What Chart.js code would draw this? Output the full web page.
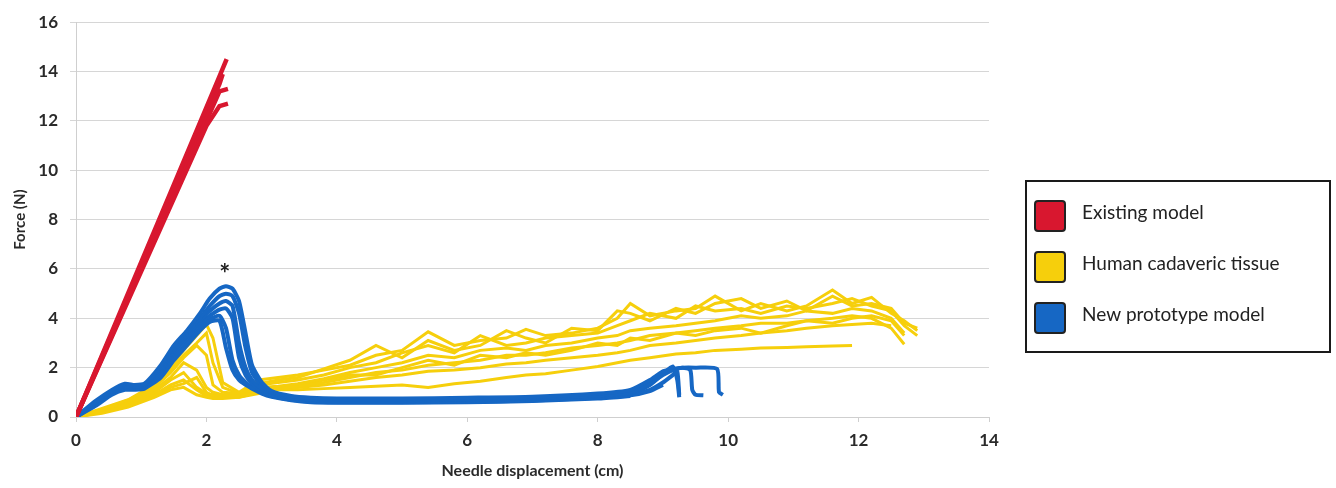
<!DOCTYPE html>
<html>
<head>
<meta charset="utf-8">
<script src="https://cdn.jsdelivr.net/npm/chart.js@4"></script>
<style>
  html, body { margin: 0; padding: 0; background: #fff; }
  #wrap { width: 1336px; height: 488px; }
</style>
</head>
<body>
<div id="wrap"><canvas id="chart" width="1336" height="488"></canvas></div>
<script>
// Axis ticks
const xTicks = [0, 2, 4, 6, 8, 10, 12, 14];
const yTicks = [0, 2, 4, 6, 8, 10, 12, 14, 16];
const legendNames = ['Existing model', 'Human cadaveric tissue', 'New prototype model'];

// Existing model (red) - near straight traces
const redX = [0, 1.0, 2.0, 2.2, 2.25, 2.31, 2.33];
const red1 = [0, 6.28, 12.55, 13.8, null, 14.5, null];
const red2 = [0, 6.15, 12.3, 13.5, 13.9, null, null];
const red3 = [0, 6.0, 12.0, 13.2, null, null, 13.3];
const red4 = [0, 5.9, 11.8, 12.6, null, null, 12.7];

// Human cadaveric tissue (yellow)
const yellowX = [0, 0.4, 0.8, 1.2, 1.45, 1.65, 1.85, 2.0, 2.1, 2.25, 2.5, 2.8, 3.1, 3.4, 3.8, 4.2, 4.6, 5.0, 5.4, 5.8, 6.2, 6.6, 6.9, 7.2, 7.6, 8.0, 8.3, 8.5, 8.8, 9.2, 9.5, 9.8, 10.2, 10.5, 10.9, 11.2, 11.6, 11.9, 12.2, 12.5, 12.7, 12.9];
const yellow1 = [0, 0.35, 0.7, 1.3, 2.0, 2.7, 3.3, 3.75, 3.2, 1.4, 1.0, 1.5, 1.6, 1.7, 1.9, 2.1, 2.5, 2.7, 3.45, 2.9, 3.1, 3.2, 3.55, 3.3, 3.4, 3.6, 4.0, 4.6, 4.1, 4.3, 4.4, 4.9, 4.3, 4.6, 4.3, 4.5, 5.15, 4.6, 4.85, 4.2, 3.9, 3.5];
const yellow2 = [0, 0.3, 0.65, 1.2, 1.8, 2.4, 2.9, 2.5, 1.3, 1.0, 0.95, 1.3, 1.4, 1.5, 1.7, 2.0, 2.2, 2.6, 2.9, 2.6, 3.3, 2.9, 3.0, 3.2, 3.3, 3.4, 3.7, 3.9, 4.2, 4.0, 4.5, 4.3, 4.4, 4.2, 4.5, 4.4, 4.6, 4.8, 4.5, 4.3, 3.7, 3.3];
const yellow3 = [0, 0.28, 0.6, 1.1, 1.6, 2.2, 1.9, 1.2, 1.0, 0.9, 0.9, 1.2, 1.25, 1.35, 1.55, 1.8, 2.0, 2.2, 2.5, 2.4, 2.7, 2.8, 2.7, 2.9, 3.0, 3.2, 3.3, 3.5, 3.6, 3.7, 3.8, 3.9, 4.1, 4.0, 4.1, 4.3, 4.2, 4.4, 4.3, 4.0, 3.4, null];
const yellow4 = [0, 0.25, 0.55, 1.0, 1.5, 1.8, 1.2, 0.95, 0.9, 0.85, 0.85, 1.1, 1.2, 1.25, 1.4, 1.6, 1.8, 1.9, 2.1, 2.2, 2.3, 2.5, 2.5, 2.6, 2.8, 2.9, 3.0, 3.1, 3.3, 3.4, 3.5, 3.6, 3.7, 3.8, 3.8, 3.9, 4.0, 4.1, 4.0, 3.6, 2.95, null];
const yellow5 = [0, 0.2, 0.5, 0.9, 1.3, 1.5, 1.1, 0.85, 0.8, 0.8, 0.8, 1.0, 1.15, 1.2, 1.3, 1.45, 1.6, 1.7, 1.85, 1.9, 2.0, 2.15, 2.2, 2.3, 2.4, 2.5, 2.6, 2.7, 2.9, 3.0, 3.1, 3.2, 3.3, 3.4, 3.5, 3.6, 3.7, 3.75, 3.8, 3.7, null, null];
const yellow6 = [0, 0.15, 0.4, 0.8, 1.1, 1.2, 0.9, 0.8, 0.75, 0.75, 0.8, 0.95, 1.1, 1.1, 1.15, 1.2, 1.25, 1.3, 1.2, 1.35, 1.45, 1.6, 1.7, 1.75, 1.9, 2.05, 2.2, 2.3, 2.4, 2.55, 2.6, 2.7, 2.75, 2.8, 2.82, 2.85, 2.88, 2.9, null, null, null, null];
const yellow7 = [0, 0.32, 0.68, 1.25, 1.9, 2.5, 3.0, 3.4, 2.2, 1.2, 0.95, 1.35, 1.5, 1.6, 1.95, 2.3, 2.9, 2.4, 3.1, 2.7, 2.9, 3.5, 3.2, 3.0, 3.6, 3.5, 4.3, 4.2, 3.9, 4.4, 4.2, 4.6, 4.8, 4.4, 4.7, 4.3, 4.9, 4.5, 4.6, 4.4, 3.8, 3.6];
const yellow8 = [0, 0.22, 0.45, 0.85, 1.2, 1.35, 1.6, 1.0, 0.85, 0.8, 0.82, 1.05, 1.2, 1.3, 1.5, 1.7, 1.7, 2.0, 2.3, 2.1, 2.5, 2.4, 2.6, 2.5, 2.7, 3.0, 2.9, 3.2, 3.1, 3.4, 3.3, 3.5, 3.6, 3.4, 3.7, 3.9, 3.8, 4.0, 4.1, 3.9, 3.3, null];

// New prototype model (blue)
const blueX = [0, 0.3, 0.55, 0.75, 0.9, 1.05, 1.3, 1.5, 1.7, 1.9, 2.05, 2.2, 2.3, 2.4, 2.5, 2.6, 2.7, 2.85, 3.0, 3.3, 3.6, 4.0, 5.0, 6.0, 7.0, 8.0, 8.5, 8.8, 9.0, 9.15, 9.22, 9.25, 9.3, 9.42, 9.45, 9.5, 9.62, 9.83, 9.86, 9.92];
const blue1 = [0, 0.65, 1.1, 1.35, 1.3, 1.35, 2.1, 2.9, 3.5, 4.2, 4.8, 5.2, 5.3, 5.2, 4.7, 3.4, 2.1, 1.4, 1.05, 0.85, 0.78, 0.75, 0.75, 0.78, 0.82, 0.95, 1.1, 1.5, 1.85, 1.95, null, null, 2.0, null, null, 2.0, null, 1.95, 1.0, 0.9];
const blue2 = [0, 0.6, 1.05, 1.3, 1.25, 1.3, 2.0, 2.8, 3.4, 4.0, 4.5, 4.9, 5.0, 4.9, 4.2, 2.8, 1.8, 1.25, 1.0, 0.8, 0.72, 0.7, 0.7, 0.73, 0.78, 0.88, 1.0, 1.35, 1.7, 1.9, null, null, 2.0, 1.9, 1.1, 0.9, 0.88, null, null, null];
const blue3 = [0, 0.58, 1.02, 1.25, 1.22, 1.28, 1.9, 2.7, 3.3, 3.9, 4.3, 4.6, 4.7, 4.5, 3.0, 2.0, 1.5, 1.15, 0.95, 0.78, 0.7, 0.68, 0.68, 0.7, 0.75, 0.85, 0.95, 1.3, 1.75, 2.05, 1.5, 0.8, null, null, null, null, null, null, null, null];
const blue4 = [0, 0.55, 1.0, 1.2, 1.2, 1.25, 1.8, 2.6, 3.2, 3.8, 4.1, 4.35, 4.4, 4.0, 2.4, 1.7, 1.35, 1.05, 0.9, 0.72, 0.65, 0.62, 0.62, 0.65, 0.7, 0.8, 0.9, 1.1, 1.4, 1.7, 1.85, 0.9, null, null, null, null, null, null, null, null];
const blue5 = [0, 0.5, 0.95, 1.15, 1.15, 1.2, 1.7, 2.4, 3.0, 3.6, 3.95, 4.1, 3.6, 2.3, 1.7, 1.4, 1.2, 1.0, 0.85, 0.7, 0.63, 0.6, 0.6, 0.62, 0.67, 0.78, 0.88, 1.05, 1.3, null, null, null, null, null, null, null, null, null, null, null];
const blue6 = [0, 0.45, 0.9, 1.1, 1.1, 1.15, 1.6, 2.3, 2.9, 3.5, 3.85, 3.9, 2.8, 1.9, 1.5, 1.3, 1.15, 0.95, 0.82, 0.68, 0.6, 0.58, 0.58, 0.6, 0.65, 0.75, 0.85, null, null, null, null, null, null, null, null, null, null, null, null, null];

// Asterisk over the highest blue peak
const starX = 2.28;
const starY = 6.0;

const RED = '#d8172f';
const YELLOW = '#f6cf0c';
const BLUE = '#1667c4';
const FONT = 'Lato, "Open Sans", sans-serif';

function toPoints(xs, ys) {
    return xs.map((x, i) => ({ x: x, y: ys[i] }));
}

function trace(xs, ys, color, order, width, tension) {
    return {
        data: toPoints(xs, ys),
        borderColor: color,
        backgroundColor: color,
        borderWidth: width,
        pointRadius: 0,
        tension: tension,
        spanGaps: true,
        fill: false,
        order: order
    };
}

let datasets = [];
[red1, red2, red3, red4].forEach(ys => datasets.push(trace(redX, ys, RED, 0, 4.5, 0)));
[blue1, blue2, blue3, blue4, blue5, blue6].forEach(ys => datasets.push(trace(blueX, ys, BLUE, 1, 4, 0.2)));
[yellow1, yellow2, yellow3, yellow4, yellow5, yellow6, yellow7, yellow8].forEach(ys => datasets.push(trace(yellowX, ys, YELLOW, 2, 3, 0)));

// Boxed legend on the right and asterisk marker
const extrasPlugin = {
    id: 'extras',
    afterDraw(chart) {
        const ctx = chart.ctx;
        const xs = chart.scales.x, ys = chart.scales.y;

        ctx.save();
        ctx.fillStyle = '#222';
        ctx.font = 'bold 26px ' + FONT;
        ctx.textAlign = 'center';
        ctx.textBaseline = 'middle';
        ctx.fillText('*', xs.getPixelForValue(starX), ys.getPixelForValue(starY) + 6);

        const area = chart.chartArea;
        const left = area.right + 37, top = 181, w = 304, h = 171;
        ctx.lineWidth = 2;
        ctx.strokeStyle = '#1a1a1a';
        ctx.strokeRect(left, top, w, h);

        const colors = [RED, YELLOW, BLUE];
        ctx.font = '19px ' + FONT;
        ctx.textAlign = 'left';
        legendNames.forEach((name, i) => {
            const cy = top + 35 + i * 51;
            ctx.fillStyle = colors[i];
            ctx.strokeStyle = '#222';
            ctx.lineWidth = 2;
            ctx.beginPath();
            ctx.roundRect(left + 9, cy - 15, 30, 30, 3);
            ctx.fill();
            ctx.stroke();
            ctx.fillStyle = '#222';
            ctx.fillText(name, left + 56, cy - 3);
        });
        ctx.restore();
    }
};

new Chart(document.getElementById('chart'), {
    type: 'line',
    data: { datasets: datasets },
    options: {
        responsive: false,
        animation: false,
        layout: { padding: { top: 17, right: 347, left: 0, bottom: 0 } },
        plugins: {
            legend: { display: false },
            tooltip: { enabled: false }
        },
        scales: {
            x: {
                type: 'linear',
                min: 0,
                max: 14,
                afterFit: s => { s.height = 71; },
                afterBuildTicks: s => { s.ticks = xTicks.map(v => ({ value: v })); },
                grid: { drawOnChartArea: false, tickLength: 5, color: '#cfcfcf' },
                border: { color: '#cfcfcf' },
                ticks: { color: '#2a2a2a', padding: 8, font: { family: FONT, size: 17, weight: 'bold' } },
                title: {
                    display: true,
                    text: 'Needle displacement (cm)',
                    color: '#2a2a2a',
                    font: { family: FONT, size: 16, weight: 'bold' },
                    padding: { top: 0, bottom: 8 }
                }
            },
            y: {
                type: 'linear',
                min: 0,
                max: 16,
                afterFit: s => { s.width = 76; },
                afterBuildTicks: s => { s.ticks = yTicks.map(v => ({ value: v })); },
                grid: { color: '#d6d6d6', tickLength: 6 },
                border: { color: '#cfcfcf' },
                ticks: { color: '#2a2a2a', padding: 12, font: { family: FONT, size: 17, weight: 'bold' } },
                title: {
                    display: true,
                    text: 'Force (N)',
                    color: '#2a2a2a',
                    font: { family: FONT, size: 15, weight: 'bold' },
                    padding: { top: 11, bottom: 0 }
                }
            }
        }
    },
    plugins: [extrasPlugin]
});
</script>
</body>
</html>
